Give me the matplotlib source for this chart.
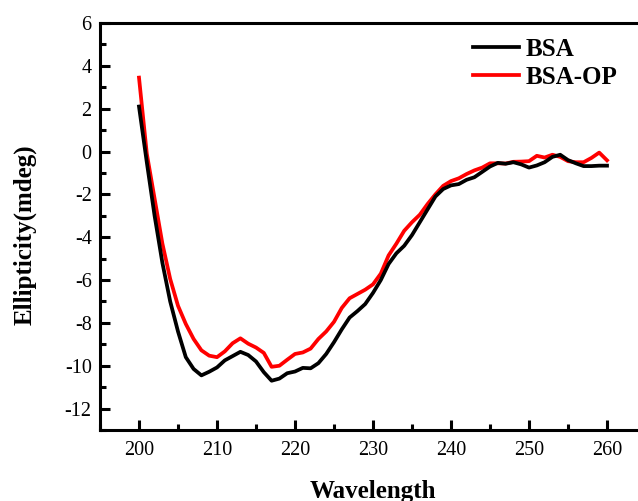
import numpy as np
import matplotlib
matplotlib.use("Agg")
import matplotlib.pyplot as plt
from matplotlib.ticker import MultipleLocator

plt.rcParams['font.family'] = ['Liberation Serif', 'DejaVu Serif']
plt.rcParams['axes.unicode_minus'] = False

# CD spectra, 1 nm steps
wavelength = list(range(200, 261))

bsa = [2.1, -0.5, -3.0, -5.2, -7.0, -8.4, -9.6, -10.15, -10.45, -10.28,
       -10.08, -9.75, -9.55, -9.35, -9.5, -9.8, -10.3, -10.7, -10.6, -10.35,
       -10.27, -10.1, -10.12, -9.88, -9.45, -8.9, -8.3, -7.75, -7.45, -7.12,
       -6.6, -6.0, -5.25, -4.75, -4.4, -3.9, -3.3, -2.7, -2.1, -1.75,
       -1.58, -1.52, -1.32, -1.2, -0.95, -0.7, -0.53, -0.57, -0.5, -0.6,
       -0.75, -0.65, -0.5, -0.25, -0.15, -0.4, -0.55, -0.68, -0.68, -0.66,
       -0.66]

bsa_op = [3.45, -0.1, -2.2, -4.3, -5.95, -7.2, -8.05, -8.75, -9.28, -9.53,
          -9.6, -9.33, -8.95, -8.72, -8.97, -9.15, -9.4, -10.05, -10.0, -9.72,
          -9.45, -9.38, -9.2, -8.75, -8.4, -7.95, -7.3, -6.85, -6.65, -6.45,
          -6.2, -5.7, -4.85, -4.3, -3.7, -3.3, -2.95, -2.45, -2.0, -1.6,
          -1.38, -1.25, -1.05, -0.88, -0.75, -0.55, -0.55, -0.56, -0.48, -0.47,
          -0.45, -0.2, -0.28, -0.15, -0.25, -0.45, -0.5, -0.5, -0.3, -0.05,
          -0.41]

fig = plt.figure(figsize=(6.38, 5.01), dpi=100)
# right side of the frame runs past the figure edge
ax = fig.add_axes([100 / 638, 71 / 501, 546 / 638, 407 / 501])

l2, = ax.plot(wavelength, bsa_op, color='red', lw=2.7, label='BSA-OP')
l1, = ax.plot(wavelength, bsa, color='black', lw=2.7, label='BSA')

ax.set_xlim(195, 265)
ax.set_ylim(-13, 6)
ax.xaxis.set_major_locator(MultipleLocator(10))
ax.xaxis.set_minor_locator(MultipleLocator(5))
ax.yaxis.set_major_locator(MultipleLocator(2))
ax.yaxis.set_minor_locator(MultipleLocator(1))

for s in ax.spines.values():
    s.set_linewidth(2.2)

ax.tick_params(which='both', direction='in', top=False, right=False,
               width=2.2, labelsize=14.5)
ax.tick_params(which='major', length=7)
ax.tick_params(which='minor', length=4)
ax.tick_params(axis='x', pad=8)
ax.tick_params(axis='y', pad=6)

ax.set_xlabel('Wavelength', fontsize=18, fontweight='bold')
ax.set_ylabel('Ellipticity(mdeg)', fontsize=18, fontweight='bold')
ax.xaxis.set_label_coords(273 / 546, -0.123)
ax.yaxis.set_label_coords(-0.116, 0.479)

leg = ax.legend(handles=[l1, l2], loc='upper left',
                bbox_to_anchor=(473 / 638, 1 - 38 / 501),
                bbox_transform=fig.transFigure, frameon=False,
                prop={'weight': 'bold', 'size': 18}, handlelength=1.85,
                handletextpad=0.25, labelspacing=0.2, borderpad=0,
                borderaxespad=0)

fig.savefig('out.png', dpi=100)
